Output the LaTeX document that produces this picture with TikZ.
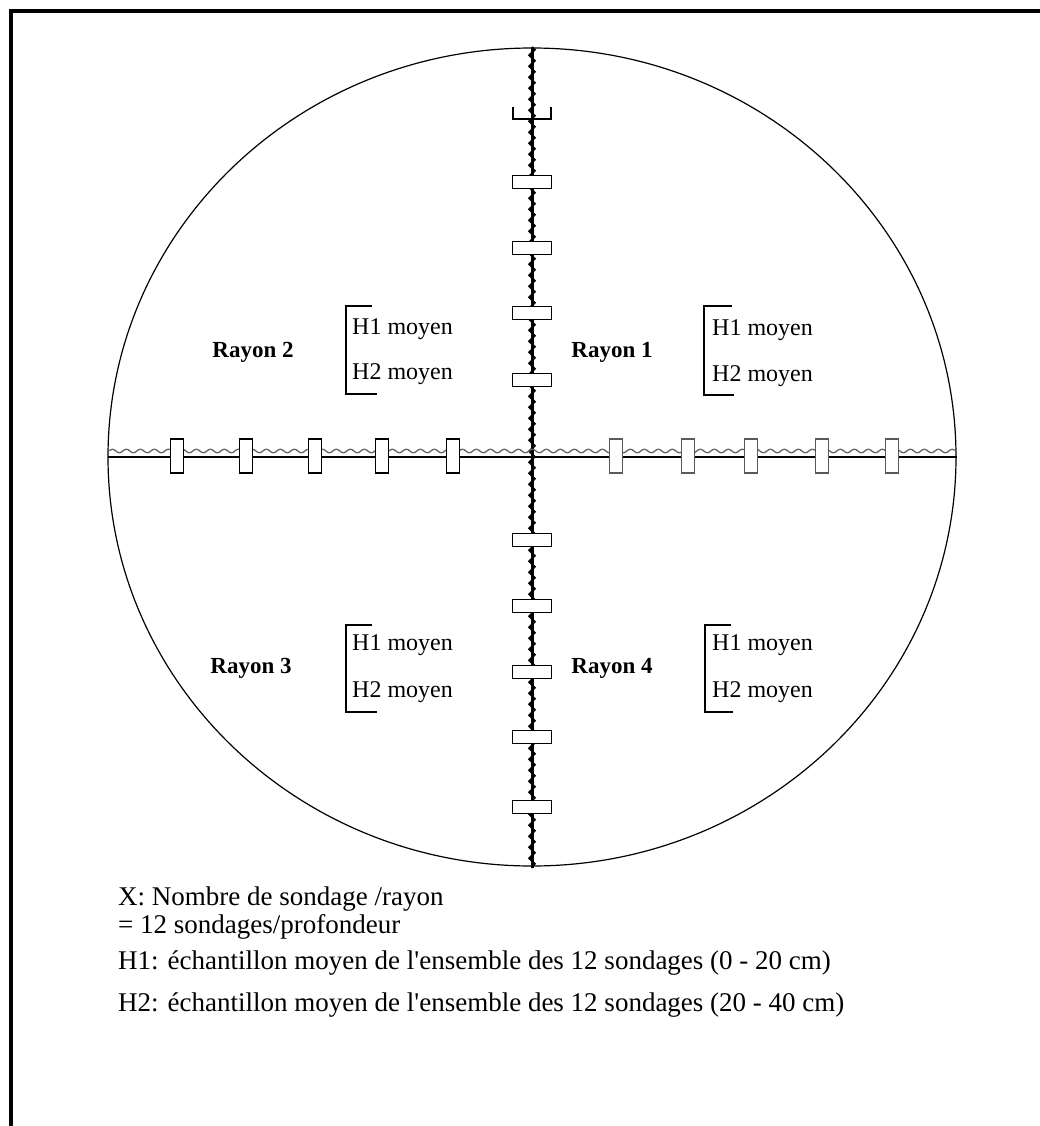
\documentclass[tikz,border=0pt]{standalone}
\usepackage{fontspec}
\setmainfont{Liberation Serif}
\usetikzlibrary{decorations.pathmorphing}

\begin{document}
\begin{tikzpicture}[
            x = 1pt, y = -1pt, % pixel grid, y going down
            sonde/.style = {draw, fill=white, line width=1.6pt, inner sep=0pt}, % one sounding
            vsonde/.style = {sonde, minimum width=39pt, minimum height=13pt},
            hsonde/.style = {sonde, minimum width=13pt, minimum height=34pt},
            rayon/.style = {font=\fontsize{23}{27}\selectfont\bfseries},
            moyen/.style = {font=\fontsize{24}{28}\selectfont, anchor=west, inner sep=0pt},
            legende/.style = {font=\fontsize{27}{30}\selectfont, anchor=west, inner sep=0pt},
            crochet/.style = {line width=1.6pt}, % bracket line
            vonde/.style = {line width=2pt, decorate, decoration={zigzag, amplitude=2.8pt, segment length=11pt}},
            honde/.style = {gray!80!black, line width=1.3pt, decorate, decoration={snake, amplitude=1.8pt, segment length=14pt}}
        ]

	\useasboundingbox (0,0) rectangle (1039,1126);
	\draw[line width=3.5pt] (11,1130) -- (11,11) -- (1043,11);

	% the plot and its two axes
	\coordinate (centre) at (532,457);
	\coordinate (haut) at (532,47);
	\coordinate (bas) at (532,868);
	\coordinate (gauche) at (108,457);
	\coordinate (droite) at (957,457);
	\coordinate (gauche onde) at (108,451);
	\coordinate (droite onde) at (957,451);

	\draw[line width=1.2pt] (centre) ellipse [x radius=424, y radius=409];

	\draw[line width=3pt] (haut) -- (bas);
	\draw[vonde] (haut) -- (bas);
	\draw[line width=1.6pt] (gauche) -- (droite);
	\draw[honde] (gauche onde) -- (droite onde);

	% soundings
	\draw[line width=1.6pt] (513,107) -- (513,119) -- (551,119) -- (551,107);
	\foreach \y [count=\i] in {182,248,313,380}
		\node[vsonde] (n\i) at (532,\y) {};
	\foreach \y [count=\i] in {540,606,672,737,807}
		\node[vsonde] (s\i) at (532,\y) {};
	\foreach \x [count=\i] in {177,246,315,382,453}
		\node[hsonde] (o\i) at (\x,456) {};
	\foreach \x [count=\i] in {616,688,751,822,892}
		\node[hsonde, draw=gray!70!black] (e\i) at (\x,456) {};

	% the four rays
	\node[rayon] (r2) at (253,352) {Rayon 2};
	\node[rayon] (r1) at (612,352) {Rayon 1};
	\node[rayon] (r3) at (251,668) {Rayon 3};
	\node[rayon] (r4) at (612,668) {Rayon 4};

	\draw[crochet] (372,306) -- (346,306) -- (346,394) -- (377,394);
	\draw[crochet] (732,306) -- (704,306) -- (704,395) -- (734,395);
	\draw[crochet] (372,625) -- (346,625) -- (346,712) -- (377,712);
	\draw[crochet] (731,625) -- (705,625) -- (705,712) -- (733,712);

	\node[moyen] (h1a) at (352,329) {H1 moyen};
	\node[moyen] (h2a) at (352,374) {H2 moyen};
	\node[moyen] (h1b) at (712,330) {H1 moyen};
	\node[moyen] (h2b) at (712,376) {H2 moyen};
	\node[moyen] (h1c) at (352,645) {H1 moyen};
	\node[moyen] (h2c) at (352,692) {H2 moyen};
	\node[moyen] (h1d) at (712,645) {H1 moyen};
	\node[moyen] (h2d) at (712,692) {H2 moyen};

	% legend
	\node[legende] (l1) at (118,899) {X: Nombre de sondage /rayon};
	\node[legende] (l2) at (118,927) {= 12 sondages/profondeur};
	\node[legende] (l3) at (118,963) {H1: échantillon moyen de l\textquotesingle ensemble des 12 sondages (0 - 20 cm)};
	\node[legende] (l4) at (118,1005) {H2: échantillon moyen de l\textquotesingle ensemble des 12 sondages (20 - 40 cm)};

\end{tikzpicture}
\end{document}
